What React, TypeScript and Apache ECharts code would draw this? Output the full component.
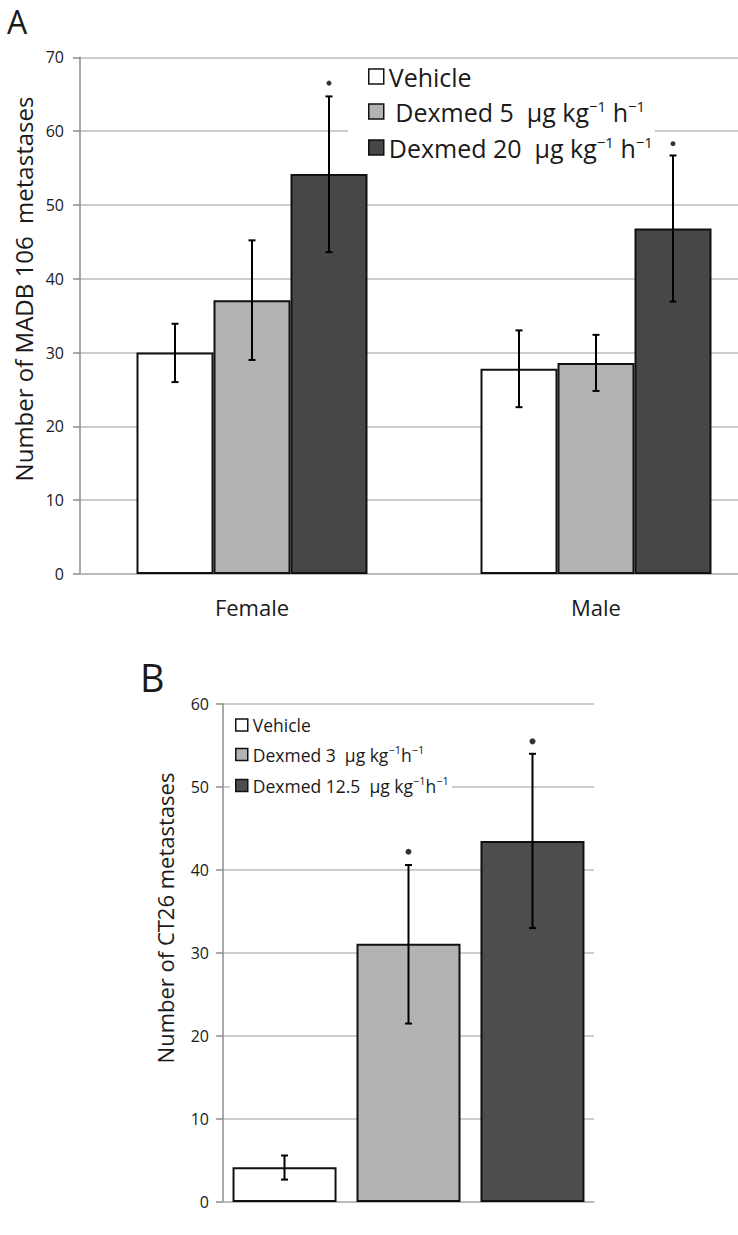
import React, { useEffect, useRef } from "react";
import * as echarts from "echarts";

// ---------- Data ----------
// Panel A
const categoriesA = ["Female", "Male"];
const namesA = ["Vehicle A", "Dexmed 5", "Dexmed 20"];
const vehicleA = [30.0, 27.8];
const dexmed5A = [37.1, 28.6];
const dexmed20A = [54.2, 46.8];
const vehicleErrA = [[26.0, 33.9], [22.6, 33.0]];
const dexmed5ErrA = [[29.0, 45.2], [24.8, 32.4]];
const dexmed20ErrA = [[43.6, 64.7], [36.9, 56.7]];
const sigDotsA20 = [66.5, 58.3];
const yMinA = 0;
const yMaxA = 70;
const yStepA = 10;

// Panel B
const categoriesB = [""];
const namesB = ["Vehicle B", "Dexmed 3", "Dexmed 12.5"];
const vehicleB = [4.2];
const dexmed3B = [31.1];
const dexmed125B = [43.5];
const vehicleErrB = [[2.7, 5.6]];
const dexmed3ErrB = [[21.5, 40.6]];
const dexmed125ErrB = [[33.0, 54.0]];
const sigDots3B = [42.2];
const sigDots125B = [55.5];
const yMinB = 0;
const yMaxB = 60;
const yStepB = 10;

const COLORS = ["#ffffff", "#b3b3b3", "#474747"];
const COLORS_B = ["#ffffff", "#b3b3b3", "#4d4d4d"];
const FONT = "'Open Sans', 'Noto Sans', sans-serif";
const TXT = "#1a1a1a";

const errRender = (offset: number, cap: number) => (params: any, api: any) => {
  const c = api.value(0);
  const lo = api.coord([c, api.value(1)]);
  const hi = api.coord([c, api.value(2)]);
  const x = lo[0] + offset;
  const style = { stroke: "#000", lineWidth: 2 };
  return {
    type: "group",
    children: [
      { type: "line", shape: { x1: x, y1: lo[1], x2: x, y2: hi[1] }, style },
      { type: "line", shape: { x1: x - cap, y1: lo[1], x2: x + cap, y2: lo[1] }, style },
      { type: "line", shape: { x1: x - cap, y1: hi[1], x2: x + cap, y2: hi[1] }, style },
    ],
  };
};

const toErrData = (arr: number[][]) => arr.map((e, i) => [i, e[0], e[1]]);
const toDotData = (arr: number[]) => arr.map((v, i) => [i, v]);

const legendFmt: Record<string, string> = {
  "Vehicle A": "{n|Vehicle}",
  "Dexmed 5": "{n| Dexmed 5  μg kg}{s|−1}{n| h}{s|−1}",
  "Dexmed 20": "{n|Dexmed 20  μg kg}{s|−1}{n| h}{s|−1}",
  "Vehicle B": "{m|Vehicle}",
  "Dexmed 3": "{m|Dexmed 3  μg kg}{t|−1}{m|h}{t|−1}",
  "Dexmed 12.5": "{m|Dexmed 12.5  μg kg}{t|−1}{m|h}{t|−1}",
};

export default function App() {
  const ref = useRef<HTMLDivElement>(null);

  useEffect(() => {
    if (!ref.current) return;
    const chart = echarts.init(ref.current, null, { renderer: "svg" });

    const barA = (name: string, data: number[], idx: number) => ({
      name,
      type: "bar",
      xAxisIndex: 0,
      yAxisIndex: 0,
      data,
      barWidth: 77,
      barGap: "0%",
      itemStyle: { color: COLORS[idx], borderColor: "#111", borderWidth: 2 },
      z: 2,
    });
    const barB = (name: string, data: number[], idx: number) => ({
      name,
      type: "bar",
      xAxisIndex: 1,
      yAxisIndex: 1,
      data,
      barWidth: 104,
      barGap: "19.2%",
      itemStyle: { color: COLORS_B[idx], borderColor: "#111", borderWidth: 2 },
      z: 2,
    });
    const errA = (arr: number[][], offset: number) => ({
      type: "custom",
      xAxisIndex: 0,
      yAxisIndex: 0,
      data: toErrData(arr),
      renderItem: errRender(offset, 3.5),
      clip: false,
      z: 6,
    });
    const errB = (arr: number[][], offset: number) => ({
      type: "custom",
      xAxisIndex: 1,
      yAxisIndex: 1,
      data: toErrData(arr),
      renderItem: errRender(offset, 3.5),
      clip: false,
      z: 6,
    });
    const dots = (axis: number, arr: number[], offset: number, size: number) => ({
      type: "scatter",
      xAxisIndex: axis,
      yAxisIndex: axis,
      data: toDotData(arr),
      symbol: "circle",
      symbolSize: size,
      symbolOffset: [offset, 0],
      itemStyle: { color: "#000" },
      clip: false,
      z: 6,
    });

    const yAxisCommon = {
      type: "value",
      axisLine: { show: true, lineStyle: { color: "#8c8c8c", width: 1.5 } },
      axisTick: { show: true, length: 7, lineStyle: { color: "#8c8c8c", width: 1.5 } },
      splitLine: { show: true, lineStyle: { color: "#bdbdbd", width: 1.5 } },
      axisLabel: { fontSize: 16, color: TXT, fontFamily: FONT },
    };

    const option: any = {
      animation: false,
      backgroundColor: "#ffffff",
      grid: [
        { left: 80, top: 57.3, width: 688, height: 516.7 },
        { left: 223, top: 704, width: 371, height: 498 },
      ],
      xAxis: [
        {
          type: "category",
          gridIndex: 0,
          data: categoriesA,
          axisLine: { show: true, lineStyle: { color: "#b5b5b5", width: 1.5 } },
          axisTick: { show: false },
          axisLabel: { fontSize: 22, color: TXT, fontFamily: FONT, margin: 22 },
        },
        {
          type: "category",
          gridIndex: 1,
          data: categoriesB,
          axisLine: { show: true, lineStyle: { color: "#b5b5b5", width: 1.5 } },
          axisTick: { show: false },
          axisLabel: { show: false },
        },
      ],
      yAxis: [
        {
          ...yAxisCommon,
          gridIndex: 0,
          min: yMinA,
          max: yMaxA,
          interval: yStepA,
          axisLabel: { ...yAxisCommon.axisLabel, margin: 16 },
        },
        {
          ...yAxisCommon,
          gridIndex: 1,
          min: yMinB,
          max: yMaxB,
          interval: yStepB,
          axisLabel: { ...yAxisCommon.axisLabel, margin: 14 },
        },
      ],
      legend: [
        {
          data: namesA,
          orient: "vertical",
          left: 348,
          top: 62,
          padding: [2, 2, 4, 20],
          itemWidth: 15,
          itemHeight: 15,
          itemGap: 9,
          icon: "rect",
          selectedMode: false,
          backgroundColor: "#ffffff",
          itemStyle: { borderColor: "#111", borderWidth: 1.5 },
          formatter: (name: string) => legendFmt[name],
          textStyle: {
            fontFamily: FONT,
            fontSize: 25,
            color: TXT,
            rich: {
              n: { fontFamily: FONT, fontSize: 25, color: TXT, lineHeight: 28 },
              s: { fontFamily: FONT, fontSize: 15, color: TXT, lineHeight: 16, padding: [0, 0, 12, 0] },
            },
          },
        },
        {
          data: namesB,
          orient: "vertical",
          left: 230,
          top: 712,
          padding: [4, 3, 4, 5],
          itemWidth: 12,
          itemHeight: 12,
          itemGap: 10,
          icon: "rect",
          selectedMode: false,
          backgroundColor: "#ffffff",
          itemStyle: { borderColor: "#111", borderWidth: 1.5 },
          formatter: (name: string) => legendFmt[name],
          textStyle: {
            fontFamily: FONT,
            fontSize: 17.5,
            color: TXT,
            rich: {
              m: { fontFamily: FONT, fontSize: 17.5, color: TXT, lineHeight: 22 },
              t: { fontFamily: FONT, fontSize: 11, color: TXT, lineHeight: 12, padding: [0, 0, 10, 0] },
            },
          },
        },
      ],
      series: [
        barA(namesA[0], vehicleA, 0),
        barA(namesA[1], dexmed5A, 1),
        barA(namesA[2], dexmed20A, 2),
        errA(vehicleErrA, -77),
        errA(dexmed5ErrA, 0),
        errA(dexmed20ErrA, 77),
        dots(0, sigDotsA20, 77, 5),
        barB(namesB[0], vehicleB, 0),
        barB(namesB[1], dexmed3B, 1),
        barB(namesB[2], dexmed125B, 2),
        errB(vehicleErrB, -124),
        errB(dexmed3ErrB, 0),
        errB(dexmed125ErrB, 124),
        dots(1, sigDots3B, 0, 6),
        dots(1, sigDots125B, 124, 6),
      ],
      graphic: [
        {
          type: "text",
          x: 7,
          y: 5,
          style: { text: "A", font: `32px ${FONT}`, fill: TXT, align: "left", verticalAlign: "top" },
        },
        {
          type: "text",
          x: 140,
          y: 677,
          style: { text: "B", font: `38px ${FONT}`, fill: TXT, align: "left", verticalAlign: "middle" },
        },
        {
          type: "text",
          x: 23,
          y: 289,
          rotation: Math.PI / 2,
          style: {
            text: "Number of MADB 106  metastases",
            font: `24px ${FONT}`,
            fill: TXT,
            align: "center",
            verticalAlign: "middle",
          },
        },
        {
          type: "text",
          x: 165,
          y: 918,
          rotation: Math.PI / 2,
          style: {
            text: "Number of CT26 metastases",
            font: `22px ${FONT}`,
            fill: TXT,
            align: "center",
            verticalAlign: "middle",
          },
        },
      ],
    };

    chart.setOption(option);
    return () => chart.dispose();
  }, []);

  return (
    <div
      style={{
        position: "absolute",
        left: 0,
        top: 0,
        width: 738,
        height: 1235,
        overflow: "hidden",
        background: "#fff",
      }}
    >
      <div ref={ref} style={{ width: 770, height: 1235 }} />
    </div>
  );
}
